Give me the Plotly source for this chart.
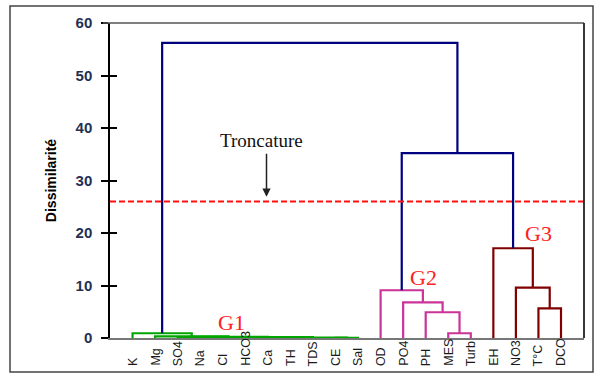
import plotly.graph_objects as go

# ---- data ----
leaves = ["K", "Mg", "SO4", "Na", "Cl", "HCO3", "Ca", "TH", "TDS", "CE", "Sal",
          "OD", "PO4", "PH", "MES", "Turb", "EH", "NO3", "T°C", "DCO"]

merge_names = ["c1", "c2", "c3", "c4", "D", "C", "e", "B", "A", "G1",
               "S", "Q", "P", "G2",
               "V", "U", "G3",
               "R", "Top"]
merge_left = ["HCO3", "TH", "c1", "CE", "c3", "Cl", "SO4", "e", "Mg", "K",
              "MES", "PH", "PO4", "OD",
              "T°C", "NO3", "EH",
              "G2", "G1"]
merge_right = ["Ca", "TDS", "c2", "Sal", "c4", "D", "Na", "C", "B", "A",
               "Turb", "S", "Q", "P",
               "DCO", "V", "U",
               "G3", "R"]
merge_height = [0.05, 0.05, 0.08, 0.05, 0.1, 0.15, 0.08, 0.2, 0.3, 0.9,
                0.9, 4.9, 6.8, 9.1,
                5.65, 9.6, 17.1,
                35.2, 56.2]
merge_group = ["G1"] * 10 + ["G2"] * 4 + ["G3"] * 3 + ["top", "top"]

cut_height = 26.0
y_ticks = [0, 10, 20, 30, 40, 50, 60]

group_colors = {"G1": "#00A600", "G2": "#CC3399", "G3": "#800000", "top": "#000080"}

# ---- dendrogram geometry from linkage ----
node_x = {name: i for i, name in enumerate(leaves)}
node_h = {name: 0.0 for name in leaves}
segs = {g: ([], []) for g in group_colors}
for name, l, r, h, g in zip(merge_names, merge_left, merge_right, merge_height, merge_group):
    xl, xr = node_x[l], node_x[r]
    node_x[name] = (xl + xr) / 2
    node_h[name] = h
    xs, ys = segs[g]
    xs += [xl, xl, xr, xr, None]
    ys += [node_h[l], h, h, node_h[r], None]

fig = go.Figure()
for g, (xs, ys) in segs.items():
    fig.add_trace(go.Scatter(x=xs, y=ys, mode="lines",
                             line=dict(color=group_colors[g], width=2.2),
                             hoverinfo="skip", showlegend=False))

# invisible trace on overlay axis for crossing ticks
fig.add_trace(go.Scatter(x=[0], y=[0], yaxis="y2", mode="markers",
                         marker=dict(opacity=0), showlegend=False, hoverinfo="skip"))

# cut line
fig.add_shape(type="line", xref="paper", x0=0, x1=1, yref="y", y0=cut_height, y1=cut_height,
              line=dict(color="#FF1010", width=2, dash="6px,3px"))

# plot-area top and right border
fig.add_shape(type="line", xref="paper", yref="paper", x0=-0.015, x1=1, y0=1, y1=1,
              line=dict(color="#555555", width=1.5))
fig.add_shape(type="line", xref="paper", yref="paper", x0=1, x1=1, y0=0, y1=1,
              line=dict(color="#222222", width=1.8))

# outer frame
fig.add_shape(type="rect", xref="paper", yref="paper",
              x0=(10 - 110) / 474, x1=(593 - 110) / 474,
              y0=(338 - 372) / 315, y1=(338 - 6) / 315,
              line=dict(color="#444444", width=1.5))

# leaf labels
for i, name in enumerate(leaves):
    fig.add_annotation(x=i, xref="x", y=(338 - 368) / 315, yref="paper",
                       text=name, textangle=-90, showarrow=False,
                       xanchor="center", yanchor="bottom",
                       font=dict(family="Arial, Liberation Sans", size=12.5, color="#1a1a1a"))

# group labels
serif = "Times New Roman, Liberation Serif, serif"
for txt, gx, gy in [("G1", 4.4, 3.0), ("G2", 12.92, 11.6), ("G3", 18.02, 20.0)]:
    fig.add_annotation(x=gx, y=gy, text=txt, showarrow=False,
                       font=dict(family=serif, size=22, color="#FF2020"))

# Troncature
fig.add_annotation(x=5.73, y=37.7, text="Troncature", showarrow=False,
                   font=dict(family=serif, size=19, color="#111111"))
fig.add_annotation(x=5.94, y=26.9, ax=5.94, ay=35.4, axref="x", ayref="y",
                   text="", showarrow=True, arrowhead=2, arrowsize=1.1,
                   arrowwidth=1.5, arrowcolor="#222222")

fig.update_layout(
    width=595, height=374,
    margin=dict(l=110, r=11, t=23, b=36),
    paper_bgcolor="white", plot_bgcolor="white",
    showlegend=False,
    xaxis=dict(range=[-1, 20.02], showticklabels=False, ticks="", showgrid=False,
               zeroline=False, showline=True, linecolor="#777777", linewidth=1.5),
    yaxis=dict(range=[0, 60], tickvals=y_ticks, ticks="outside", ticklen=7, tickwidth=1.5,
               tickcolor="black", showgrid=False, zeroline=False, showline=True,
               linecolor="black", linewidth=1.5, ticklabelstandoff=6,
               tickfont=dict(family="Arial, Liberation Sans", size=15, color="#1F3055", weight="bold"),
               title=dict(text="<b>Dissimilarité</b>", standoff=16,
                          font=dict(family="Arial, Liberation Sans", size=14, color="black"))),
    yaxis2=dict(range=[0, 60], tickvals=y_ticks, overlaying="y", side="left", ticks="inside",
                ticklen=7, tickwidth=1.5, tickcolor="black", showticklabels=False,
                showgrid=False, zeroline=False, showline=False),
)

fig.write_html("out.html", config={"displayModeBar": False},
               post_script="document.body.style.margin='0';document.body.style.overflow='hidden';")
